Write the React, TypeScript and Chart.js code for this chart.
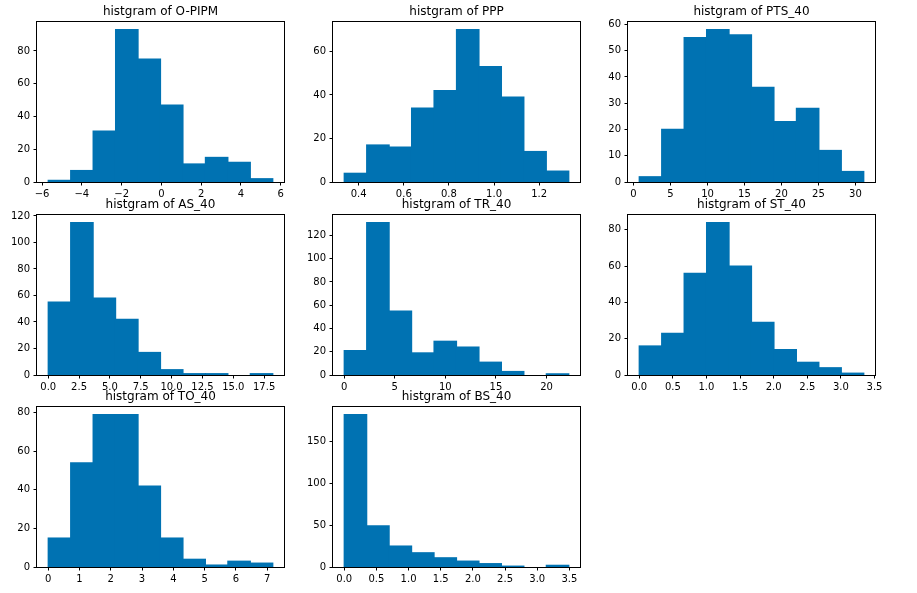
import { useEffect, useRef } from "react";
import { Chart, registerables } from "chart.js";

Chart.register(...registerables);

// ---- data ----
const titles = [
  "histgram of O-PIPM",
  "histgram of PPP",
  "histgram of PTS_40",
  "histgram of AS_40",
  "histgram of TR_40",
  "histgram of ST_40",
  "histgram of TO_40",
  "histgram of BS_40",
];
const binLow = [-5.69, 0.336, 0.77, 0, 0, 0, 0, 0];
const binHigh = [5.6, 1.331, 31.13, 18.2, 22.2, 3.34, 7.18, 3.49];

const countsOPIPM = [1, 7, 31, 93, 75, 47, 11, 15, 12, 2];
const countsPPP = [4, 17, 16, 34, 42, 70, 53, 39, 14, 5];
const countsPTS40 = [2, 20, 55, 58, 56, 36, 23, 28, 12, 4];
const countsAS40 = [55, 115, 58, 42, 17, 4, 1, 1, 0, 1];
const countsTR40 = [21, 131, 55, 19, 29, 24, 11, 3, 0, 1];
const countsST40 = [16, 23, 56, 84, 60, 29, 14, 7, 4, 1];
const countsTO40 = [15, 54, 79, 79, 42, 15, 4, 1, 3, 2];
const countsBS40 = [182, 49, 25, 17, 11, 7, 4, 1, 0, 2];
const allCounts = [
  countsOPIPM,
  countsPPP,
  countsPTS40,
  countsAS40,
  countsTR40,
  countsST40,
  countsTO40,
  countsBS40,
];

const xTickStep = [2, 0.2, 5, 2.5, 5, 0.5, 1, 0.5];
const yTickStep = [20, 20, 10, 20, 20, 20, 20, 50];

// ---- style / layout ----
const BAR_COLOR = "#0072B2";
const INK = "#000000";
const FONT = "DejaVu Sans";
const COL_LEFT = [37, 333, 628];
const ROW_TOP = [22, 215, 407];
const AX_W = 247;
const AX_H = 160;
const Y_W = 37;
const T_H = 22;
const X_H = 22;
const R_P = 14;

function makeTicks(min: number, max: number, step: number) {
  const out: { value: number }[] = [];
  const start = Math.ceil(min / step - 1e-9);
  for (let k = start; k * step <= max + 1e-9; k++) {
    out.push({ value: +(k * step).toFixed(6) });
  }
  return out;
}

function fmt(v: number, decimals: number) {
  const s = Number(v).toFixed(decimals);
  return s.replace("-", "\u2212");
}

const boxPlugin = {
  id: "axesBox",
  afterDraw(chart: any) {
    const { ctx, chartArea: a } = chart;
    ctx.save();
    ctx.strokeStyle = INK;
    ctx.lineWidth = 1;
    ctx.strokeRect(a.left - 0.5, a.top - 0.5, a.right - a.left + 1, a.bottom - a.top + 1);
    ctx.restore();
  },
};

function Hist({ idx }: { idx: number }) {
  const ref = useRef<HTMLCanvasElement>(null);
  const col = idx % 3;
  const row = Math.floor(idx / 3);
  const cw = Y_W + AX_W + R_P;
  const ch = T_H + AX_H + X_H;

  useEffect(() => {
    const lo = binLow[idx];
    const hi = binHigh[idx];
    const counts = allCounts[idx];
    const w = (hi - lo) / counts.length;
    const data = counts.map((c, i) => ({ x: lo + (i + 0.5) * w, y: c }));
    const margin = 0.05 * (hi - lo);
    const yMax = Math.max(...counts) * 1.05;
    const xs = xTickStep[idx];
    const ys = yTickStep[idx];
    const xDec = Number.isInteger(xs) ? 0 : 1;

    const chart = new Chart(ref.current as HTMLCanvasElement, {
      type: "bar",
      data: {
        datasets: [
          {
            data: data as any,
            backgroundColor: BAR_COLOR,
            borderWidth: 0,
            barPercentage: 1,
            categoryPercentage: 1,
            inflateAmount: (c: any) => (c.raw && c.raw.y > 0 ? 0.6 : 0),
          } as any,
        ],
      },
      options: {
        animation: false,
        responsive: false,
        maintainAspectRatio: false,
        events: [],
        layout: { padding: { left: 0, right: R_P, top: 0, bottom: 0 } },
        plugins: {
          legend: { display: false },
          tooltip: { enabled: false },
          title: {
            display: true,
            text: titles[idx],
            color: INK,
            fullSize: false,
            font: { family: FONT, size: 12, weight: "normal" },
            padding: { top: 4.8, bottom: 2.8 },
          },
        },
        scales: {
          x: {
            type: "linear",
            min: lo - margin,
            max: hi + margin,
            offset: false,
            border: { display: false },
            grid: {
              display: true,
              offset: false,
              drawOnChartArea: false,
              drawTicks: true,
              tickLength: 3.5,
              tickColor: INK,
              tickWidth: 1,
            },
            ticks: {
              color: INK,
              font: { family: FONT, size: 10 },
              padding: 3,
              autoSkip: false,
              maxRotation: 0,
              minRotation: 0,
              callback: (v: any) => fmt(v, xDec),
            },
            afterBuildTicks: (scale: any) => {
              scale.ticks = makeTicks(scale.min, scale.max, xs);
            },
            afterFit: (scale: any) => {
              scale.height = X_H;
              scale.paddingLeft = 0;
              scale.paddingRight = 0;
            },
          },
          y: {
            type: "linear",
            min: 0,
            max: yMax,
            border: { display: false },
            grid: {
              display: true,
              offset: false,
              drawOnChartArea: false,
              drawTicks: true,
              tickLength: 3.5,
              tickColor: INK,
              tickWidth: 1,
            },
            ticks: {
              color: INK,
              font: { family: FONT, size: 10 },
              padding: 3.5,
              autoSkip: false,
              callback: (v: any) => fmt(v, 0),
            },
            afterBuildTicks: (scale: any) => {
              scale.ticks = makeTicks(scale.min, scale.max, ys);
            },
            afterFit: (scale: any) => {
              scale.width = Y_W;
              scale.paddingTop = 0;
              scale.paddingBottom = 0;
            },
          },
        },
      } as any,
      plugins: [boxPlugin],
    });
    return () => chart.destroy();
  }, [idx]);

  return (
    <canvas
      ref={ref}
      width={cw}
      height={ch}
      style={{
        position: "absolute",
        left: COL_LEFT[col] - Y_W,
        top: ROW_TOP[row] - T_H,
        width: cw,
        height: ch,
        display: "block",
      }}
    />
  );
}

export default function App() {
  return (
    <div
      style={{
        position: "absolute",
        left: 0,
        top: 0,
        width: 917,
        height: 593,
        background: "#ffffff",
        overflow: "hidden",
      }}
    >
      {titles.map((_, i) => (
        <Hist key={i} idx={i} />
      ))}
    </div>
  );
}
